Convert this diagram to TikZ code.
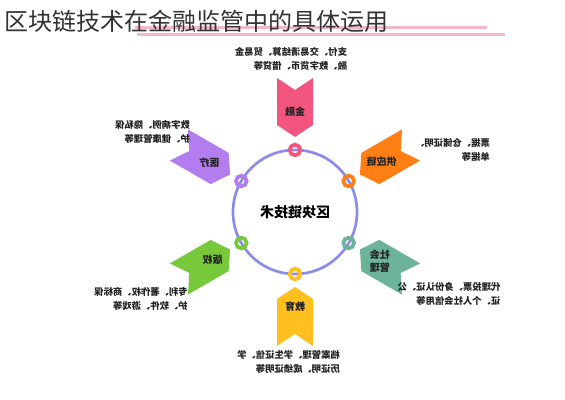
\documentclass[tikz,border=0pt]{standalone}
\usepackage{fontspec}
\setmainfont{Noto Sans CJK SC}
\usetikzlibrary{calc}
\definecolor{cpink}{HTML}{F2557F}
\definecolor{corange}{HTML}{FF7F14}
\definecolor{cteal}{HTML}{6CB399}
\definecolor{cyellow}{HTML}{FFBF1F}
\definecolor{cgreen}{HTML}{78C83C}
\definecolor{cpurple}{HTML}{B37CEF}
\definecolor{cring}{HTML}{8B8BEA}
\definecolor{barpink}{HTML}{F2B8C8}
\definecolor{txt}{HTML}{222222}
\begin{document}
\begin{tikzpicture}[x=0.75pt,y=0.75pt,
  titlefont/.style={font=\fontsize{18pt}{20pt}\selectfont, text=black!80, inner sep=0pt},
  lab/.style={font=\fontsize{7.5pt}{10pt}\selectfont\bfseries, text=txt, xscale=-1, align=center, inner sep=0pt},
  desc/.style={font=\fontsize{7pt}{10.5pt}\selectfont\bfseries, text=txt, xscale=-1, align=left, inner sep=0pt},
  center/.style={font=\fontsize{10.5pt}{12pt}\selectfont\bfseries, text=black, xscale=-1, inner sep=0pt},
  ring/.style={circle, minimum size=8pt, inner sep=0pt, line width=2.8pt},
  ringline/.style={draw=cring, line width=2pt}
]
\useasboundingbox (0,0) rectangle (565,400);
\fill[white] (0,0) rectangle (565,400);
% title underline bars
\fill[barpink] (135,370.5) rectangle (487,373.5);
\fill[barpink] (137,363.5) rectangle (505,366.5);
\node[titlefont, anchor=west] (title) at (4,379) {区块链技术在金融监管中的具体运用};
% central circle
\coordinate (C) at (295,188);
\draw[ringline] (C) circle[radius=62];
% chevrons
\foreach \a/\c in {90/cpink, 30/corange, -30/cteal, -90/cyellow, 210/cgreen, 150/cpurple}{
  \fill[\c, shift={(295,188)}, rotate=\a] (134,18) -- (122,0) -- (134,-18) -- (87,-18) -- (75,0) -- (87,18) -- cycle;
}
% ring nodes
\node[ring, draw=cpink] (rpink) at ([shift={(90:62)}]C) {};
\node[ring, draw=corange] (rorange) at ([shift={(30:62)}]C) {};
\node[ring, draw=cteal] (rteal) at ([shift={(-30:62)}]C) {};
\node[ring, draw=cyellow] (ryellow) at ([shift={(-90:62)}]C) {};
\node[ring, draw=cgreen] (rgreen) at ([shift={(210:62)}]C) {};
\node[ring, draw=cpurple] (rpurple) at ([shift={(150:62)}]C) {};
% center text
\node[center] (core) at (C) {区块链技术};
% chevron labels
\node[lab] (lpink) at ([shift={(90:100)}]C) {金融};
\node[lab] (lorange) at ([shift={(30:100)}]C) {供应链};
\node[lab] (lteal) at ([shift={(-30:98)}]C) {社会\\管理};
\node[lab] (lyellow) at ([shift={(-90:95)}]C) {教育};
\node[lab] (lgreen) at ([shift={(210:95)}]C) {版权};
\node[lab] (lpurple) at ([shift={(150:99)}]C) {医疗};
% descriptions
\node[desc] (dpink) at (291,341) {支付、交易清结算、贸易金\\融、数字货币、借贷等};
\node[desc] (dpurple) at (152.5,268.5) {数字病例、隐私保\\护、健康管理等};
\node[desc] (dorange) at (452.5,250) {票据、仓储证明、\\单据等};
\node[desc] (dgreen) at (141,101.5) {专利、著作权、商标保\\护、软件、游戏等};
\node[desc] (dteal) at (449,106.5) {代理投票、身份认证、公\\证、个人社会信用等};
\node[desc] (dyellow) at (288.5,38) {档案管理、学生证信、学\\历证明、成绩证明等};
\end{tikzpicture}
\end{document}
